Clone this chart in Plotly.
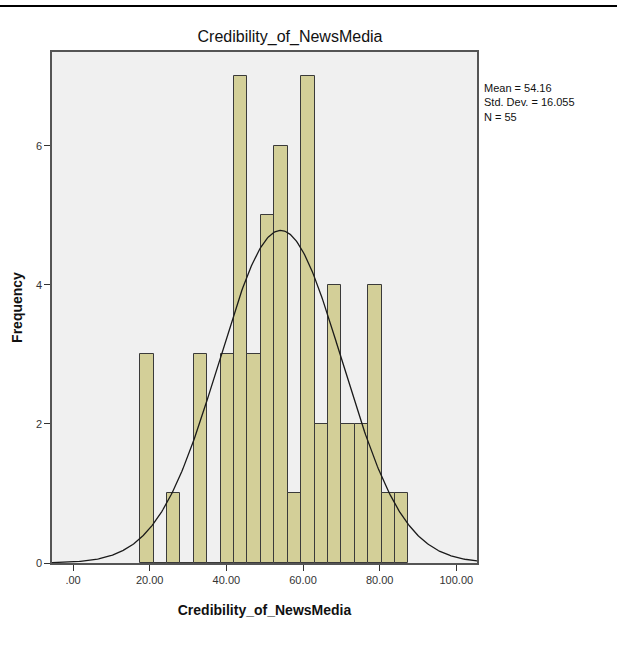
import numpy as np
import plotly.graph_objects as go

# Histogram data (bin lower edges, bin width 3.5)
bin_lefts = [17.5, 21.0, 24.5, 28.0, 31.5, 35.0, 38.5, 42.0, 45.5, 49.0,
             52.5, 56.0, 59.5, 63.0, 66.5, 70.0, 73.5, 77.0, 80.5, 84.0]
bin_width = 3.5
counts = [3, 0, 1, 0, 3, 0, 3, 7, 3, 5, 6, 1, 7, 2, 4, 2, 2, 4, 1, 1]

# Summary statistics shown on the chart
mean_val = 54.16
std_val = 16.055
n_val = 55

x_tickvals = [0, 20, 40, 60, 80, 100]
x_ticktext = [".00", "20.00", "40.00", "60.00", "80.00", "100.00"]
y_tickvals = [0, 2, 4, 6]

centers = [b + bin_width / 2 for b in bin_lefts]

# Normal curve implied by the summary statistics
xs = np.linspace(-5.6, 105.6, 400)
ys = n_val * bin_width / (std_val * np.sqrt(2 * np.pi)) * np.exp(-0.5 * ((xs - mean_val) / std_val) ** 2)

font_family = "Liberation Sans, Arial, sans-serif"

fig = go.Figure()
fig.add_trace(go.Bar(
    x=centers, y=counts, width=bin_width,
    marker=dict(color="#D3CF98", line=dict(color="#3a3a3a", width=1)),
    hoverinfo="x+y", showlegend=False,
))
fig.add_trace(go.Scatter(
    x=xs, y=ys, mode="lines",
    line=dict(color="#1a1a1a", width=1.3),
    showlegend=False, hoverinfo="skip",
))

fig.update_layout(
    width=617, height=653,
    margin=dict(l=52, r=140, t=52, b=90),
    paper_bgcolor="white",
    plot_bgcolor="#F0F0F0",
    font=dict(family=font_family, color="#222222", size=11),
    title=dict(text="Credibility_of_NewsMedia", x=290 / 617, xanchor="center",
               y=1 - 36 / 653, yanchor="middle",
               font=dict(size=16, color="#111111", family=font_family)),
    bargap=0,
    xaxis=dict(
        range=[-5.5, 105.4],
        tickvals=x_tickvals, ticktext=x_ticktext,
        ticks="outside", ticklen=6, tickcolor="#333333", tickwidth=1,
        showgrid=False, zeroline=False,
        showline=True, linecolor="#555555", linewidth=1.5, mirror=True,
        tickfont=dict(size=11, color="#333333"),
        title=dict(text="<b>Credibility_of_NewsMedia</b>", standoff=20,
                   font=dict(size=14, color="#111111")),
    ),
    yaxis=dict(
        range=[0, 7.35],
        tickvals=y_tickvals,
        ticks="outside", ticklen=6, tickcolor="#333333", tickwidth=1,
        showgrid=False, zeroline=False,
        showline=True, linecolor="#555555", linewidth=1.5, mirror=True,
        tickfont=dict(size=11, color="#333333"),
        title=dict(text="<b>Frequency</b>", standoff=10,
                   font=dict(size=14, color="#111111")),
    ),
    shapes=[dict(type="line", xref="paper", yref="paper",
                 x0=-52 / 425, x1=(617 - 52) / 425,
                 y0=1 + 46 / 511, y1=1 + 46 / 511,
                 line=dict(color="black", width=2))],
    annotations=[dict(
        text=f"Mean = {mean_val:.2f}<br>Std. Dev. = {std_val:.3f}<br>N = {n_val}",
        xref="paper", yref="paper", x=1 + 5 / 425, y=1 - 28 / 511,
        xanchor="left", yanchor="top", align="left", showarrow=False,
        font=dict(size=11, color="#111111"),
    )],
)

fig.write_html("out.html")
